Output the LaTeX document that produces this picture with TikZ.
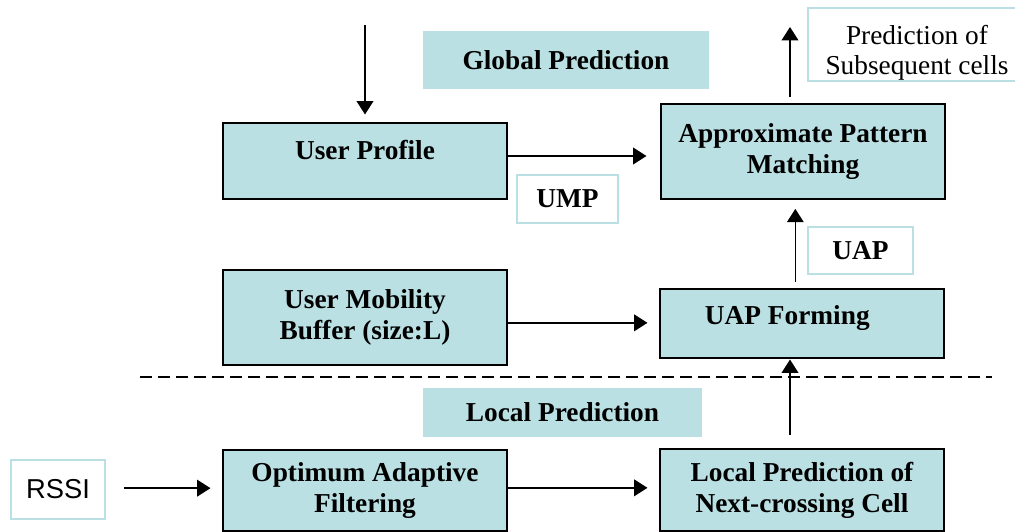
\documentclass[tikz,border=0pt]{standalone}
\usepackage{fontspec}
\setmainfont{Liberation Serif}
\setsansfont{Liberation Sans}
\usepackage{tikz}
\usetikzlibrary{arrows.meta}
\definecolor{predblue}{HTML}{BAE0E3}

\begin{document}
\begin{tikzpicture}[
x=0.75pt,y=-0.75pt,
every node/.style={font=\fontsize{20.5}{23.25}\selectfont\bfseries},
box/.style={draw=black,line width=0.8pt,fill=predblue,inner sep=0pt,
align=center,minimum width=213pt},
lbl/.style={fill=predblue,inner sep=0pt},
tag/.style={draw=predblue,line width=1pt,fill=white,inner sep=0pt,align=center},
arr/.style={-{Triangle[length=10pt,width=12.5pt]},line width=1.1pt}
]
\clip (0,0) rectangle (1015,532);
\node[lbl,minimum width=214.5pt,minimum height=43.5pt] (glob) at (566,60) {Global Prediction};
\node[lbl,minimum width=209.25pt,minimum height=36.75pt] (loc) at (562.5,412.5) {Local Prediction};
\node[box,minimum height=57pt,text depth=17pt] (prof) at (365,161) {User Profile};
\node[box,minimum height=71.25pt] (apm) at (803,151.5) {Approximate Pattern\\ Matching};
\node[box,minimum height=71.25pt] (umb) at (365,317.5) {User Mobility\\ Buffer (size:L)};
\node[box,minimum height=51.75pt,text depth=12pt] (uapf) at (802,323.5) {UAP Forming\hspace*{22pt}};
\node[box,minimum height=60.75pt] (oaf) at (365,490.5) {Optimum Adaptive\\ Filtering};
\node[box,minimum height=61.5pt] (lpnc) at (802,490) {Local Prediction of\\ Next-crossing Cell};
\node[tag,minimum width=75.75pt,minimum height=36pt] (ump) at (567.5,199) {UMP};
\node[tag,minimum width=78.75pt,minimum height=35.25pt] (uap) at (860.5,250.5) {UAP};
\node[tag,minimum width=163.5pt,minimum height=54.75pt,text height=50pt,
font=\fontsize{20.5}{22.5}\selectfont] (pred) at (917,44.5) {Prediction of\\ Subsequent cells};
\node[tag,minimum width=70.5pt,minimum height=44.25pt,
font=\fontsize{20.5}{23}\selectfont\sffamily] (rssi) at (58,489.5) {RSSI};

\coordinate (topin) at (365,25);
\coordinate (outtip) at (790,27);
\coordinate (sepl) at (140,377);
\coordinate (sepr) at (992,377);

\draw[arr,shorten >=6pt] (topin) -- (prof.north);
\draw[arr,shorten <=5pt] (apm.north -| outtip) -- (outtip);
\draw[arr,shorten >=10.5pt] ([yshift=3.75pt]prof.east) -- ([yshift=3.75pt]prof.east -| apm.west);
\draw[arr,shorten <=5pt,shorten >=7pt] ([xshift=-5pt]uapf.north) -- ([xshift=-5pt]uapf.north |- apm.south);
\draw[arr,shorten >=9pt] ([yshift=-4pt]umb.east) -- ([yshift=-4pt]umb.east -| uapf.west);
\draw[arr,shorten <=10pt,shorten >=0.75pt] ([xshift=-9pt]lpnc.north) -- ([xshift=-9pt]lpnc.north |- uapf.south);
\draw[arr,shorten <=13.5pt,shorten >=9pt] ([yshift=1pt]rssi.east) -- ([yshift=1pt]rssi.east -| oaf.west);
\draw[arr,shorten >=9pt] ([yshift=2pt]oaf.east) -- ([yshift=2pt]oaf.east -| lpnc.west);
\draw[line width=0.9pt,dash pattern=on 9pt off 4.5pt] (sepl) -- (sepr);
\end{tikzpicture}
\end{document}
